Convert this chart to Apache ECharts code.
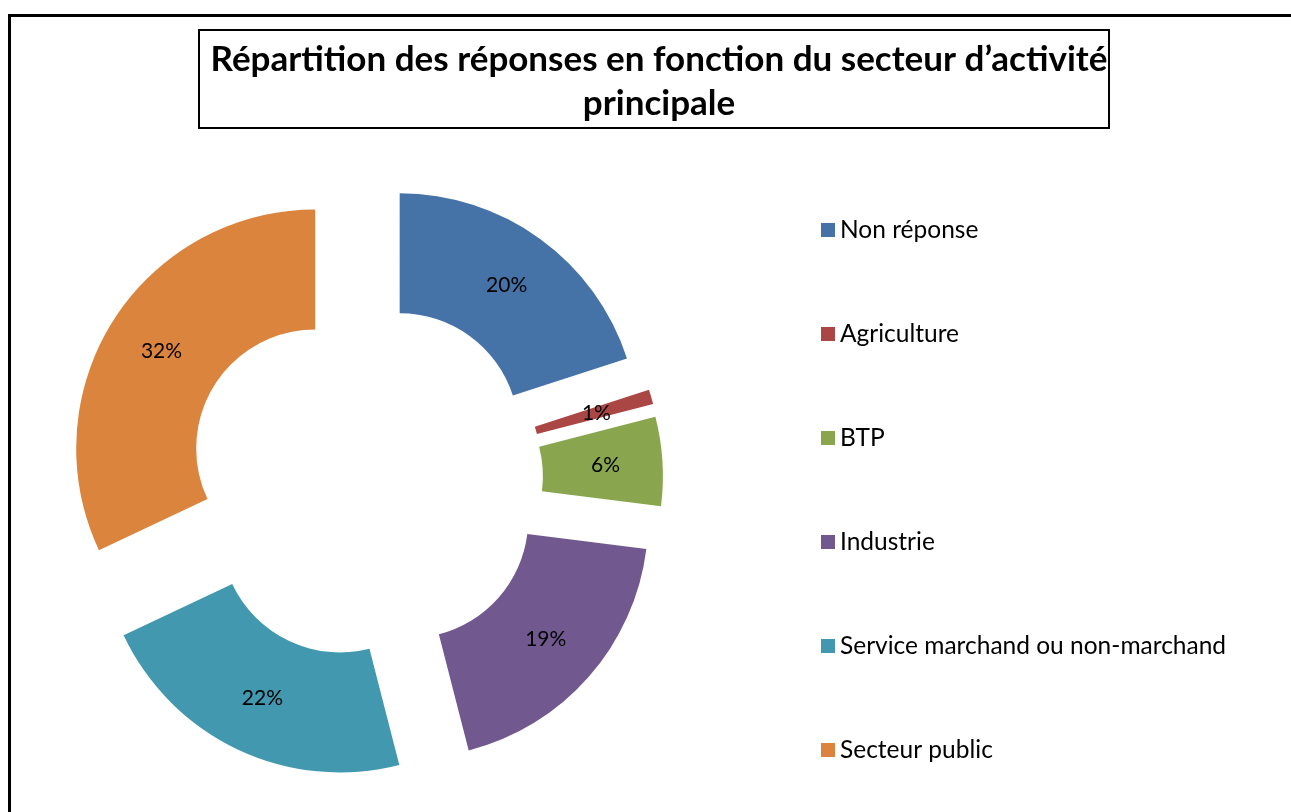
<!DOCTYPE html>
<html lang="fr">
<head>
<meta charset="utf-8">
<title>Répartition des réponses</title>
<script src="https://cdn.jsdelivr.net/npm/echarts@6/dist/echarts.min.js"></script>
<style type="text/css">
html, body{ margin:0; padding:0; background:#fff;}
#chart{ width:1291px; height:812px;}
</style>
</head>
<body>
<div id="chart"></div>
<script>
// données
var categories = ['Non réponse', 'Agriculture', 'BTP', 'Industrie', 'Service marchand ou non-marchand', 'Secteur public'];
var percents = [20, 1, 6, 19, 22, 32];
var colors = ['#4572A7', '#AA4643', '#89A54E', '#71588F', '#4198AF', '#DB843D'];
var titleText = 'Répartition des réponses en fonction du secteur d\u2019activité\nprincipale';

var font = 'Lato, "Open Sans", sans-serif';

var pieData = categories.map(function(name, i){
  return { name: name, value: percents[i], selected: true, itemStyle: { color: colors[i] } };
});

var chart = echarts.init(document.getElementById('chart'));
chart.setOption({
  backgroundColor: '#fff',
  animation: false,
  title: {
    text: titleText,
    left: 654,
    top: 33,
    textAlign: 'center',
    textStyle: { fontFamily: font, fontSize: 35, fontWeight: 'bold', color: '#000', lineHeight: 44 }
  },
  graphic: [
    // cadre extérieur
    { type: 'rect', shape: { x: 9.5, y: 15.5, width: 1300, height: 820 }, style: { fill: 'none', stroke: '#000', lineWidth: 3 } },
    // cadre du titre
    { type: 'rect', shape: { x: 199, y: 30, width: 910, height: 98 }, style: { fill: 'none', stroke: '#000', lineWidth: 2 } }
  ],
  legend: {
    orient: 'vertical',
    left: 816,
    top: 212,
    icon: 'rect',
    itemWidth: 14,
    itemHeight: 14,
    itemGap: 78,
    selectedMode: false,
    textStyle: { fontFamily: font, fontSize: 24.5, color: '#000', lineHeight: 26 },
    data: categories
  },
  series: [{
    type: 'pie',
    center: [365, 480],
    radius: [119, 239],
    startAngle: 90,
    clockwise: true,
    selectedMode: 'multiple',
    selectedOffset: 59,
    avoidLabelOverlap: false,
    emphasis: { disabled: true },
    label: {
      show: true,
      position: 'inside',
      formatter: '{c}%',
      fontFamily: font,
      fontSize: 21,
      color: '#000'
    },
    labelLine: { show: false },
    data: pieData
  }]
});
</script>
</body>
</html>
